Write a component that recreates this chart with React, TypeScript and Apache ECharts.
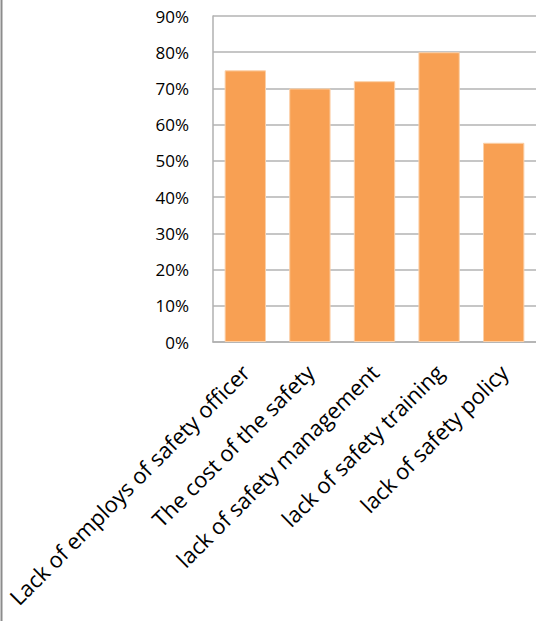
import React, { useEffect, useRef } from "react";
import * as echarts from "echarts";

const categories = [
  "Lack of employs of safety officer",
  "The cost of the safety",
  "lack of safety management",
  "lack of safety training",
  "lack of safety policy",
];
const values = [75, 70, 72, 80, 55];
const yMax = 90;
const yInterval = 10;

export default function App() {
  const ref = useRef<HTMLDivElement>(null);
  useEffect(() => {
    document.body.style.margin = "0";
    const chart = echarts.init(ref.current!, null, { renderer: "svg" });
    chart.setOption({
      animation: false,
      backgroundColor: "#ffffff",
      textStyle: { fontFamily: "Open Sans" },
      grid: { left: 213, right: -2, top: 16, bottom: 279, containLabel: false },
      graphic: [
        {
          type: "line",
          shape: { x1: 1.5, y1: 0, x2: 1.5, y2: 621 },
          style: { stroke: "#8c8c8c", lineWidth: 2 },
        },
      ],
      xAxis: {
        type: "category",
        data: categories,
        axisLine: { lineStyle: { color: "#b0b0b0", width: 1.5 } },
        axisTick: { show: false },
        axisLabel: {
          rotate: 45,
          interval: 0,
          color: "#000",
          fontSize: 22,
          fontFamily: "Open Sans",
          margin: 26,
        },
      },
      yAxis: {
        type: "value",
        min: 0,
        max: yMax,
        interval: yInterval,
        axisLine: { show: true, lineStyle: { color: "#b0b0b0", width: 1.5 } },
        axisTick: { show: false },
        splitLine: { lineStyle: { color: "#b3b3b3", width: 1.5 } },
        axisLabel: {
          formatter: "{value}%",
          color: "#000",
          fontSize: 17,
          fontFamily: "Open Sans",
          margin: 24,
        },
      },
      series: [
        {
          type: "bar",
          data: values,
          barWidth: "64%",
          itemStyle: { color: "#f8a053", borderColor: "#fbd0a8", borderWidth: 1 },
        },
      ],
    });
    return () => chart.dispose();
  }, []);
  return <div ref={ref} style={{ width: 536, height: 621 }} />;
}
